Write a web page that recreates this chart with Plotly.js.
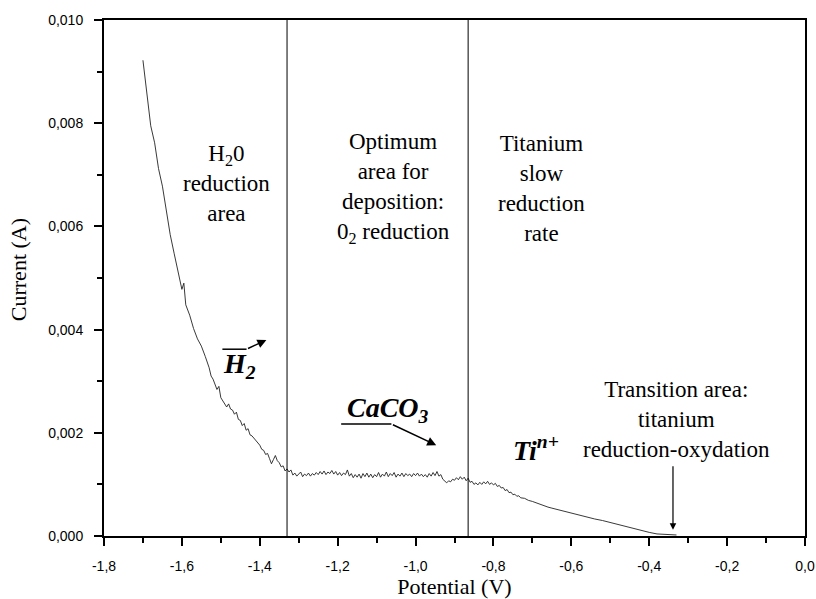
<!DOCTYPE html>
<html>
<head>
<meta charset="utf-8">
<script src="https://cdn.plot.ly/plotly-3.0.1.min.js"></script>
<style>html,body{margin:0;padding:0;background:#fff;}#chart{width:816px;height:599px;}</style>
</head>
<body>
<div id="chart"></div>
<script>
// ---- data ----
const potentialV = [
 -1.70,-1.69,-1.68,-1.67,-1.66,-1.65,-1.64,-1.63,-1.62,-1.61,-1.60,-1.595,-1.59,-1.58,-1.57,-1.56,-1.55,-1.54,-1.53,-1.525,
 -1.52,-1.51,-1.505,-1.50,-1.495,-1.49,-1.485,-1.48,-1.475,-1.47,-1.465,-1.46,-1.455,-1.45,-1.445,-1.44,-1.435,-1.43,-1.425,-1.42,
 -1.415,-1.41,-1.405,-1.40,-1.395,-1.39,-1.385,-1.38,-1.375,-1.37,-1.365,-1.36,-1.355,-1.35,-1.345,-1.34,-1.335,-1.33,-1.325,-1.32,
 -1.315,-1.31,-1.305,-1.30,-1.295,-1.29,-1.285,-1.28,-1.275,-1.27,-1.265,-1.26,-1.255,-1.25,-1.245,-1.24,-1.235,-1.23,-1.225,-1.22,
 -1.215,-1.21,-1.205,-1.20,-1.195,-1.19,-1.185,-1.18,-1.175,-1.17,-1.165,-1.16,-1.155,-1.15,-1.145,-1.14,-1.135,-1.13,-1.125,-1.12,
 -1.115,-1.11,-1.105,-1.10,-1.095,-1.09,-1.085,-1.08,-1.075,-1.07,-1.065,-1.06,-1.055,-1.05,-1.045,-1.04,-1.035,-1.03,-1.025,-1.02,
 -1.015,-1.01,-1.005,-1.00,-0.995,-0.99,-0.985,-0.98,-0.975,-0.97,-0.965,-0.96,-0.955,-0.95,-0.945,-0.94,-0.935,-0.93,-0.925,-0.92,
 -0.915,-0.91,-0.905,-0.90,-0.895,-0.89,-0.885,-0.88,-0.875,-0.87,-0.865,-0.86,-0.855,-0.85,-0.845,-0.84,-0.835,-0.83,-0.825,-0.82,
 -0.815,-0.81,-0.805,-0.80,-0.795,-0.79,-0.785,-0.78,-0.775,-0.77,-0.765,-0.76,-0.755,-0.75,-0.745,-0.74,-0.735,-0.73,-0.72,-0.71,
 -0.70,-0.69,-0.68,-0.67,-0.66,-0.65,-0.64,-0.62,-0.60,-0.58,-0.56,-0.54,-0.52,-0.50,-0.48,-0.46,-0.44,-0.42,-0.40,-0.38,
 -0.36,-0.34,-0.33
];
const currentA = [
 0.00922,0.00855,0.00795,0.00762,0.00712,0.00678,0.00630,0.00584,0.00548,0.00512,0.00478,0.00490,0.00448,0.00428,0.00402,0.00382,0.00368,0.00348,0.00326,0.00310,
 0.00304,0.00284,0.00290,0.00268,0.00262,0.00258,0.00250,0.00256,0.00246,0.00244,0.00236,0.00240,0.00226,0.00224,0.00214,0.00218,0.00205,0.00208,0.00196,0.00194,
 0.00190,0.00184,0.00180,0.00176,0.00168,0.00166,0.00158,0.00160,0.00150,0.00140,0.00148,0.00156,0.00146,0.00142,0.00134,0.00136,0.00126,0.00130,0.00124,0.00128,
 0.00118,0.00122,0.00116,0.00121,0.00124,0.00115,0.00120,0.00117,0.00122,0.00116,0.00121,0.00118,0.00123,0.00119,0.00125,0.00120,0.00126,0.00119,0.00124,0.00121,
 0.00127,0.00120,0.00125,0.00118,0.00123,0.00117,0.00122,0.00119,0.00128,0.00116,0.00121,0.00113,0.00119,0.00114,0.00120,0.00112,0.00121,0.00115,0.00122,0.00114,
 0.00120,0.00113,0.00119,0.00115,0.00123,0.00114,0.00120,0.00116,0.00124,0.00115,0.00121,0.00117,0.00123,0.00114,0.00120,0.00116,0.00122,0.00115,0.00121,0.00117,
 0.00120,0.00115,0.00121,0.00117,0.00122,0.00116,0.00120,0.00115,0.00119,0.00114,0.00121,0.00116,0.00123,0.00117,0.00125,0.00116,0.00119,0.00110,0.00106,0.00103,
 0.00107,0.00105,0.00110,0.00108,0.00113,0.00109,0.00115,0.00110,0.00114,0.00107,0.00112,0.00104,0.00106,0.00100,0.00103,0.00099,0.00104,0.00100,0.00105,0.00101,
 0.00106,0.00100,0.00103,0.00099,0.00102,0.00096,0.00098,0.00093,0.00094,0.00088,0.00090,0.00084,0.00085,0.00080,0.00081,0.00077,0.00078,0.00074,0.00073,0.00069,
 0.00067,0.00064,0.00061,0.00059,0.00056,0.00054,0.00052,0.00048,0.00045,0.00041,0.00037,0.00033,0.00030,0.00026,0.00022,0.00019,0.00015,0.00011,0.00007,0.00004,
 0.00003,0.00002,0.00002
];
const xTickVals = [-1.8,-1.6,-1.4,-1.2,-1.0,-0.8,-0.6,-0.4,-0.2,0.0];
const xTickText = ["-1,8","-1,6","-1,4","-1,2","-1,0","-0,8","-0,6","-0,4","-0,2","0,0"];
const xMinorVals = [-1.7,-1.5,-1.3,-1.1,-0.9,-0.7,-0.5,-0.3,-0.1];
const yTickVals = [0,0.002,0.004,0.006,0.008,0.010];
const yTickText = ["0,000","0,002","0,004","0,006","0,008","0,010"];
const yMinorVals = [0.001,0.003,0.005,0.007,0.009];
const boundaryPotentials = [-1.33,-0.865];
const regionLabels = [
  "H<sub>2</sub>0<br>reduction<br>area",
  "Optimum<br>area for<br>deposition:<br>0<sub>2</sub> reduction",
  "Titanium<br>slow<br>reduction<br>rate",
  "Transition area:<br>titanium<br>reduction-oxydation"
];
const speciesLabels = ["<b><i>H<sub>2</sub></i></b>", "<b><i>CaCO<sub>3</sub></i></b>", "<b><i>Ti<sup>n+</sup></i></b>"];
const axisTitles = {x: "Potential (V)", y: "Current (A)"};

// ---- chart ----
const serif = "Liberation Serif, Times New Roman, serif";
const sans = "Liberation Sans, Arial, sans-serif";

const trace = {
  x: potentialV, y: currentA, type: "scatter", mode: "lines",
  line: {color: "#222", width: 0.9}, hoverinfo: "skip", showlegend: false
};

const shapes = boundaryPotentials.map(v => ({
  type: "line", xref: "x", yref: "paper", x0: v, x1: v, y0: 0, y1: 1,
  line: {color: "#000", width: 1}
}));
// horizontal strokes of the H2 and CaCO3 arrows
shapes.push({type: "line", xref: "x", yref: "y", x0: -1.496, x1: -1.434, y0: 0.00362, y1: 0.00362, line: {color: "#000", width: 1.5}});
shapes.push({type: "line", xref: "x", yref: "y", x0: -1.191, x1: -1.062, y0: 0.00217, y1: 0.00217, line: {color: "#000", width: 1.5}});

const regionFont = {family: serif, size: 23, color: "#000"};
const speciesFont = {family: serif, size: 28, color: "#000"};
const annotations = [
  {x: -1.485, y: 0.00684, xref: "x", yref: "y", text: regionLabels[0], showarrow: false, font: regionFont, align: "center"},
  {x: -1.057, y: 0.00674, xref: "x", yref: "y", text: regionLabels[1], showarrow: false, font: regionFont, align: "center"},
  {x: -0.676, y: 0.00674, xref: "x", yref: "y", text: regionLabels[2], showarrow: false, font: regionFont, align: "center"},
  {x: -0.330, y: 0.00225, xref: "x", yref: "y", text: regionLabels[3], showarrow: false, font: regionFont, align: "center"},
  {x: -1.452, y: 0.00330, xref: "x", yref: "y", text: speciesLabels[0], showarrow: false, font: speciesFont},
  {x: -1.070, y: 0.00246, xref: "x", yref: "y", text: speciesLabels[1], showarrow: false, font: speciesFont},
  {x: -0.690, y: 0.00170, xref: "x", yref: "y", text: speciesLabels[2], showarrow: false, font: speciesFont},
  // arrows
  {x: -1.383, y: 0.00380, ax: -1.434, ay: 0.00362, xref: "x", yref: "y", axref: "x", ayref: "y", text: "", showarrow: true, arrowhead: 2, arrowsize: 1.2, arrowwidth: 1.5, arrowcolor: "#000"},
  {x: -0.947, y: 0.00176, ax: -1.062, ay: 0.00217, xref: "x", yref: "y", axref: "x", ayref: "y", text: "", showarrow: true, arrowhead: 2, arrowsize: 1.2, arrowwidth: 1.5, arrowcolor: "#000"},
  {x: -0.339, y: 0.00012, ax: -0.339, ay: 0.00138, xref: "x", yref: "y", axref: "x", ayref: "y", text: "", showarrow: true, arrowhead: 2, arrowsize: 1.1, arrowwidth: 1.2, arrowcolor: "#000"},
  // y axis title (placed slightly above the plot centre as in the reference)
  {x: -0.1227, y: 0.517, xref: "paper", yref: "paper", text: axisTitles.y, textangle: -90, showarrow: false,
   font: {family: serif, size: 22, color: "#000"}, xanchor: "center", yanchor: "middle"}
];

const axisCommon = {
  showgrid: false, zeroline: false, showline: true, linecolor: "#000", linewidth: 2, mirror: true,
  ticks: "outside", ticklen: 8, tickwidth: 2, tickcolor: "#000",
  tickfont: {family: sans, size: 14, color: "#000"}, tickmode: "array", ticklabelstandoff: 8
};

const layout = {
  width: 816, height: 599,
  margin: {l: 104, r: 11, t: 20, b: 63},
  paper_bgcolor: "#fff", plot_bgcolor: "#fff",
  showlegend: false,
  xaxis: Object.assign({}, axisCommon, {
    range: [-1.8, 0], tickvals: xTickVals, ticktext: xTickText,
    minor: {tickmode: "array", tickvals: xMinorVals, ticks: "outside", ticklen: 5, tickwidth: 2, tickcolor: "#000"},
    title: {text: axisTitles.x, font: {family: serif, size: 22, color: "#000"}, standoff: 4}
  }),
  yaxis: Object.assign({}, axisCommon, {
    range: [0, 0.010], tickvals: yTickVals, ticktext: yTickText,
    minor: {tickmode: "array", tickvals: yMinorVals, ticks: "outside", ticklen: 5, tickwidth: 2, tickcolor: "#000"}
  }),
  shapes: shapes,
  annotations: annotations
};

Plotly.newPlot("chart", [trace], layout, {staticPlot: true, displayModeBar: false});
</script>
</body>
</html>
